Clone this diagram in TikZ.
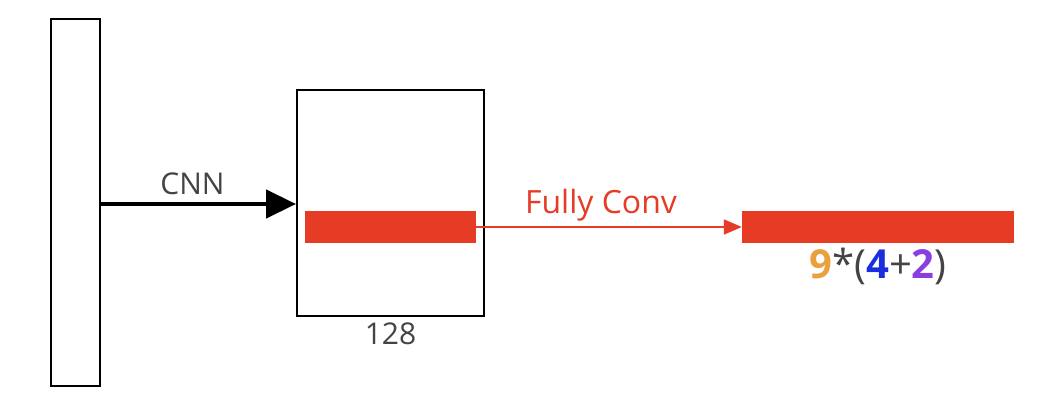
\documentclass[tikz,border=0pt]{standalone}
\usepackage{fontspec}
\setmainfont{Open Sans}
\usepackage{xcolor}
\usetikzlibrary{arrows.meta}
\definecolor{barred}{HTML}{E63B25}
\definecolor{graytext}{HTML}{444444}
\definecolor{orangenum}{HTML}{EBA040}
\definecolor{bluenum}{HTML}{1A2EE0}
\definecolor{purplenum}{HTML}{8A3EE0}
\tikzset{every node/.append style={font=\fontsize{30}{36}\selectfont,text=graytext}}
\tikzset{
  frame/.style={draw=black,line width=2pt,inner sep=0pt},
  redbar/.style={fill=barred,draw=none,inner sep=0pt,minimum height=32pt}
}
\begin{document}
\begin{tikzpicture}[x=1pt,y=1pt]
  \useasboundingbox (0,0) rectangle (1052,410);
  % boxes
  \node[frame,minimum width=49pt,minimum height=367pt] (input) at (75.5,207.5) {};
  \node[frame,minimum width=187pt,minimum height=226pt] (feat) at (390.5,207) {};
  \node[redbar,minimum width=171pt] (featbar) at (390.5,183) {};
  \node[redbar,minimum width=272pt] (outbar) at (878,183) {};
  % arrows
  \coordinate (cnnstart) at (input.east |- 0,206);
  \draw[line width=4.5pt,-{Triangle[length=30pt,width=28pt]}] (cnnstart) -- (feat.west |- cnnstart)
    node[midway,above=4pt,xshift=-6pt] {CNN};
  \draw[barred,line width=2pt,-{Triangle[length=18pt,width=15pt]}] (featbar.east) -- (outbar.west)
    node[midway,above=1pt,xshift=-8pt,text=barred,font=\fontsize{32}{38}\selectfont] {Fully Conv};
  % labels
  \node[below=2pt] (fdim) at (feat.south) {128};
  \node[below=1pt,font=\fontsize{40}{48}\selectfont] (odim) at (outbar.south)
    {\textcolor{orangenum}{\textbf{9}}*(\textcolor{bluenum}{\textbf{4}}+\textcolor{purplenum}{\textbf{2}})};
\end{tikzpicture}
\end{document}
